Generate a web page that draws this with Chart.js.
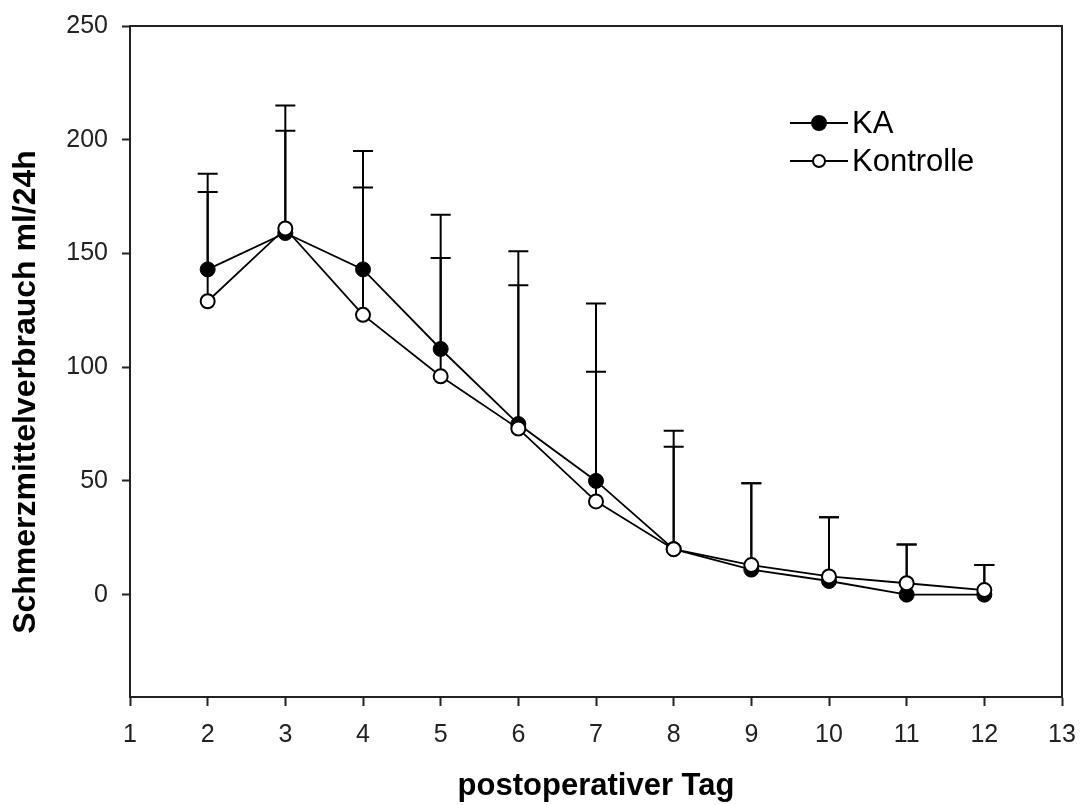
<!DOCTYPE html>
<html>
<head>
<meta charset="utf-8">
<script src="https://cdn.jsdelivr.net/npm/chart.js@4"></script>
<style>
  body { margin: 0; background: #fff; }
  #wrap { width: 1081px; height: 805px; }
</style>
</head>
<body>
<div id="wrap"><canvas id="myChart" width="1081" height="805"></canvas></div>
<script>
// values
const days = [2, 3, 4, 5, 6, 7, 8, 9, 10, 11, 12]
const ka = [143, 159, 143, 108, 75, 50, 20, 11, 6, 0, 0]
const kaSD = [42, 56, 52, 59, 76, 78, 52, 38, 28, 22, 13]
const kontrolle = [129, 161, 123, 96, 73, 41, 20, 13, 8, 5, 2]
const kontrolleSD = [48, 43, 56, 52, 63, 57, 45, 36, 26, 17, 11]
const yTicks = [0, 50, 100, 150, 200, 250]
const yTitle = 'Schmerzmittelverbrauch ml/24h'

const fontName = "'Liberation Sans', Arial, sans-serif"

function points(values){
    return days.map((d, i) => ({x: d, y: values[i]}))
}

// upper error bars, drawn under the markers
const errorBars = {
    id: 'errorBars',
    beforeDatasetsDraw(chart){
        const ctx = chart.ctx
        const xs = chart.scales.x
        const ys = chart.scales.y
        const sets = [[ka, kaSD], [kontrolle, kontrolleSD]]
        ctx.save()
        ctx.strokeStyle = '#000'
        ctx.lineWidth = 2
        sets.forEach(([mean, sd]) => {
            for (let i = 0; i < days.length; i++){
                const px = xs.getPixelForValue(days[i])
                const y0 = ys.getPixelForValue(mean[i])
                const y1 = ys.getPixelForValue(mean[i] + sd[i])
                ctx.beginPath()
                ctx.moveTo(px, y0)
                ctx.lineTo(px, y1)
                ctx.moveTo(px - 10, y1)
                ctx.lineTo(px + 10, y1)
                ctx.stroke()
            }
        })
        ctx.restore()
    }
}

// box round the plot, y title and legend in the upper right corner
const frameAndLegend = {
    id: 'frameAndLegend',
    afterDraw(chart){
        const ctx = chart.ctx
        const a = chart.chartArea
        ctx.save()
        ctx.strokeStyle = '#222'
        ctx.lineWidth = 2
        ctx.beginPath()
        ctx.moveTo(a.left, a.top)
        ctx.lineTo(a.right, a.top)
        ctx.lineTo(a.right, a.bottom)
        ctx.stroke()

        // y title sits a bit lower than the middle of the axis
        ctx.save()
        ctx.translate(26, a.top + 366)
        ctx.rotate(-Math.PI / 2)
        ctx.fillStyle = '#000'
        ctx.font = 'bold 32px ' + fontName
        ctx.textAlign = 'center'
        ctx.textBaseline = 'middle'
        ctx.fillText(yTitle, 0, 0)
        ctx.restore()

        const lx = a.right - 272
        const rows = [a.top + 97, a.top + 135]
        chart.data.datasets.forEach((ds, i) => {
            const y = rows[i]
            ctx.strokeStyle = '#000'
            ctx.lineWidth = 2
            ctx.beginPath()
            ctx.moveTo(lx, y)
            ctx.lineTo(lx + 58, y)
            ctx.stroke()
            ctx.beginPath()
            ctx.arc(lx + 29, y, i === 0 ? 7 : 6, 0, Math.PI * 2)
            ctx.fillStyle = ds.pointBackgroundColor
            ctx.fill()
            ctx.stroke()
            ctx.fillStyle = '#000'
            ctx.font = '31px ' + fontName
            ctx.textAlign = 'left'
            ctx.textBaseline = 'middle'
            ctx.fillText(ds.label, lx + 62, y + 1)
        })
        ctx.restore()
    }
}

const myChart = new Chart(document.getElementById('myChart'), {
    type: 'line',
    data: {
        datasets: [{
            label: 'KA',
            data: points(ka),
            borderColor: '#000',
            borderWidth: 1.8,
            pointRadius: 7.5,
            pointBackgroundColor: '#000',
            pointBorderColor: '#000',
            pointBorderWidth: 1,
            order: 1
        }, {
            label: 'Kontrolle',
            data: points(kontrolle),
            borderColor: '#000',
            borderWidth: 1.8,
            pointRadius: 7,
            pointBackgroundColor: '#fff',
            pointBorderColor: '#000',
            pointBorderWidth: 2,
            order: 0
        }]
    },
    options: {
        responsive: false,
        animation: false,
        layout: { padding: { top: 26, right: 19, left: 0, bottom: 0 } },
        plugins: {
            legend: { display: false },
            tooltip: { enabled: false }
        },
        scales: {
            x: {
                type: 'linear',
                min: 1,
                max: 13,
                afterFit: (scale) => {
                    scale.height = 108
                    scale.paddingRight = 0
                    scale.paddingLeft = 0
                },
                ticks: {
                    stepSize: 1,
                    color: '#222',
                    padding: 14,
                    font: { family: fontName, size: 25 }
                },
                grid: { drawOnChartArea: false, tickLength: 9, tickWidth: 2, tickColor: '#222' },
                border: { display: true, width: 2, color: '#222' },
                title: {
                    display: true,
                    text: 'postoperativer Tag',
                    color: '#000',
                    padding: { top: 0, bottom: 0 },
                    font: { family: fontName, size: 31, weight: 'bold' }
                }
            },
            y: {
                type: 'linear',
                min: -45,
                max: 250,
                afterFit: (scale) => {
                    scale.width = 130
                    scale.paddingTop = 0
                    scale.paddingBottom = 0
                },
                afterBuildTicks: (scale) => {
                    scale.ticks = yTicks.map(v => ({value: v}))
                },
                ticks: {
                    color: '#222',
                    padding: 14,
                    font: { family: fontName, size: 25 }
                },
                grid: { drawOnChartArea: false, tickLength: 8, tickWidth: 2, tickColor: '#222' },
                border: { display: true, width: 2, color: '#222' }
            }
        }
    },
    plugins: [errorBars, frameAndLegend]
})
</script>
</body>
</html>
